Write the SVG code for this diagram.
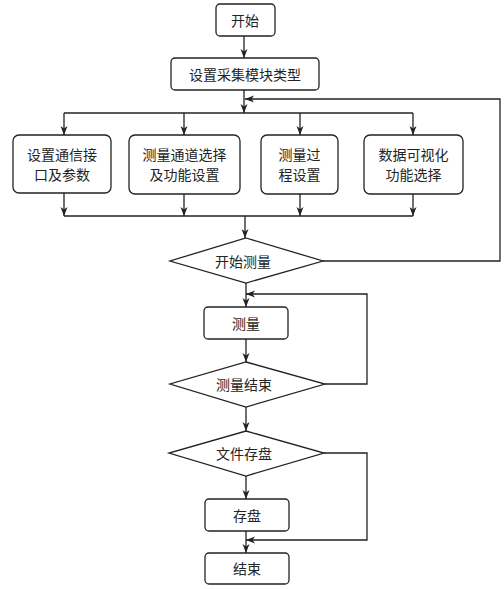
<svg xmlns="http://www.w3.org/2000/svg" width="504" height="589" viewBox="0 0 504 589">
<style>
.n{fill:#fff;stroke:#222;stroke-width:1.3}
.c{fill:none;stroke:#222;stroke-width:1.3}
.t{font-family:"Noto Sans CJK SC","Noto Sans CJK JP",sans-serif;font-size:14px;fill:#222;text-anchor:middle;dominant-baseline:central;opacity:0.99}
</style>
<defs>
<marker id="a" markerUnits="userSpaceOnUse" markerWidth="10" markerHeight="8" refX="9" refY="3.5" orient="auto">
<path d="M0,0 L9,3.5 L0,7 L2.5,3.5 z" fill="#222"/>
</marker>
</defs>
<rect width="504" height="589" fill="#fff"/>
<g id="connectors">
<line class="c" x1="244" y1="36" x2="244" y2="58" marker-end="url(#a)"/>
<line class="c" x1="244" y1="90" x2="244" y2="113" marker-end="url(#a)"/>
<line class="c" x1="64" y1="113" x2="413" y2="113"/>
<line class="c" x1="64" y1="113" x2="64" y2="135" marker-end="url(#a)"/>
<line class="c" x1="184" y1="113" x2="184" y2="135" marker-end="url(#a)"/>
<line class="c" x1="300" y1="113" x2="300" y2="135" marker-end="url(#a)"/>
<line class="c" x1="413" y1="113" x2="413" y2="135" marker-end="url(#a)"/>
<line class="c" x1="64" y1="193" x2="64" y2="216" marker-end="url(#a)"/>
<line class="c" x1="184" y1="194" x2="184" y2="216" marker-end="url(#a)"/>
<line class="c" x1="300" y1="194" x2="300" y2="216" marker-end="url(#a)"/>
<line class="c" x1="413" y1="194" x2="413" y2="216" marker-end="url(#a)"/>
<line class="c" x1="64" y1="216" x2="413" y2="216"/>
<line class="c" x1="245" y1="216" x2="245" y2="238" marker-end="url(#a)"/>
<polyline class="c" points="323,261 500,261 500,99 245,99" marker-end="url(#a)"/>
<line class="c" x1="246" y1="283" x2="246" y2="307" marker-end="url(#a)"/>
<line class="c" x1="246" y1="339" x2="246" y2="362" marker-end="url(#a)"/>
<polyline class="c" points="325,384 367,384 367,294 246,294" marker-end="url(#a)"/>
<line class="c" x1="246" y1="407" x2="246" y2="431" marker-end="url(#a)"/>
<line class="c" x1="246" y1="476" x2="246" y2="499" marker-end="url(#a)"/>
<polyline class="c" points="324,453 367,453 367,540 246,540" marker-end="url(#a)"/>
<line class="c" x1="246" y1="531" x2="246" y2="553" marker-end="url(#a)"/>
</g>
<g id="start"><rect class="n" x="216" y="4" width="59" height="32" rx="4"/><text class="t" x="245" y="20">开始</text></g>
<g id="setType"><rect class="n" x="171" y="58" width="148" height="32" rx="4"/><text class="t" x="245" y="74">设置采集模块类型</text></g>
<g id="box1"><rect class="n" x="13" y="135" width="98" height="58" rx="6"/><text class="t" x="62" y="154">设置通信接</text><text class="t" x="62" y="174">口及参数</text></g>
<g id="box2"><rect class="n" x="129" y="135" width="111" height="59" rx="6"/><text class="t" x="184.5" y="154">测量通道选择</text><text class="t" x="184.5" y="174">及功能设置</text></g>
<g id="box3"><rect class="n" x="261" y="135" width="77" height="59" rx="6"/><text class="t" x="299.5" y="154">测量过</text><text class="t" x="299.5" y="174">程设置</text></g>
<g id="box4"><rect class="n" x="364" y="135" width="99" height="59" rx="6"/><text class="t" x="413.5" y="154">数据可视化</text><text class="t" x="413.5" y="174">功能选择</text></g>
<g id="startMeasure"><polygon class="n" points="246,238 323,261 246,283 170,261"/><text class="t" x="243" y="261">开始测量</text></g>
<g id="measure"><rect class="n" x="204" y="307" width="84" height="32" rx="4"/><text class="t" x="246" y="323">测量</text></g>
<g id="measureEnd"><polygon class="n" points="246,362 325,384 246,407 170,384"/><text class="t" x="244" y="384">测量结束</text></g>
<g id="fileSave"><polygon class="n" points="246,431 324,453 246,476 169,453"/><text class="t" x="244" y="453">文件存盘</text></g>
<g id="save"><rect class="n" x="205" y="499" width="84" height="32" rx="4"/><text class="t" x="247" y="515">存盘</text></g>
<g id="end"><rect class="n" x="205" y="553" width="84" height="31" rx="4"/><text class="t" x="247" y="568">结束</text></g>
</svg>
